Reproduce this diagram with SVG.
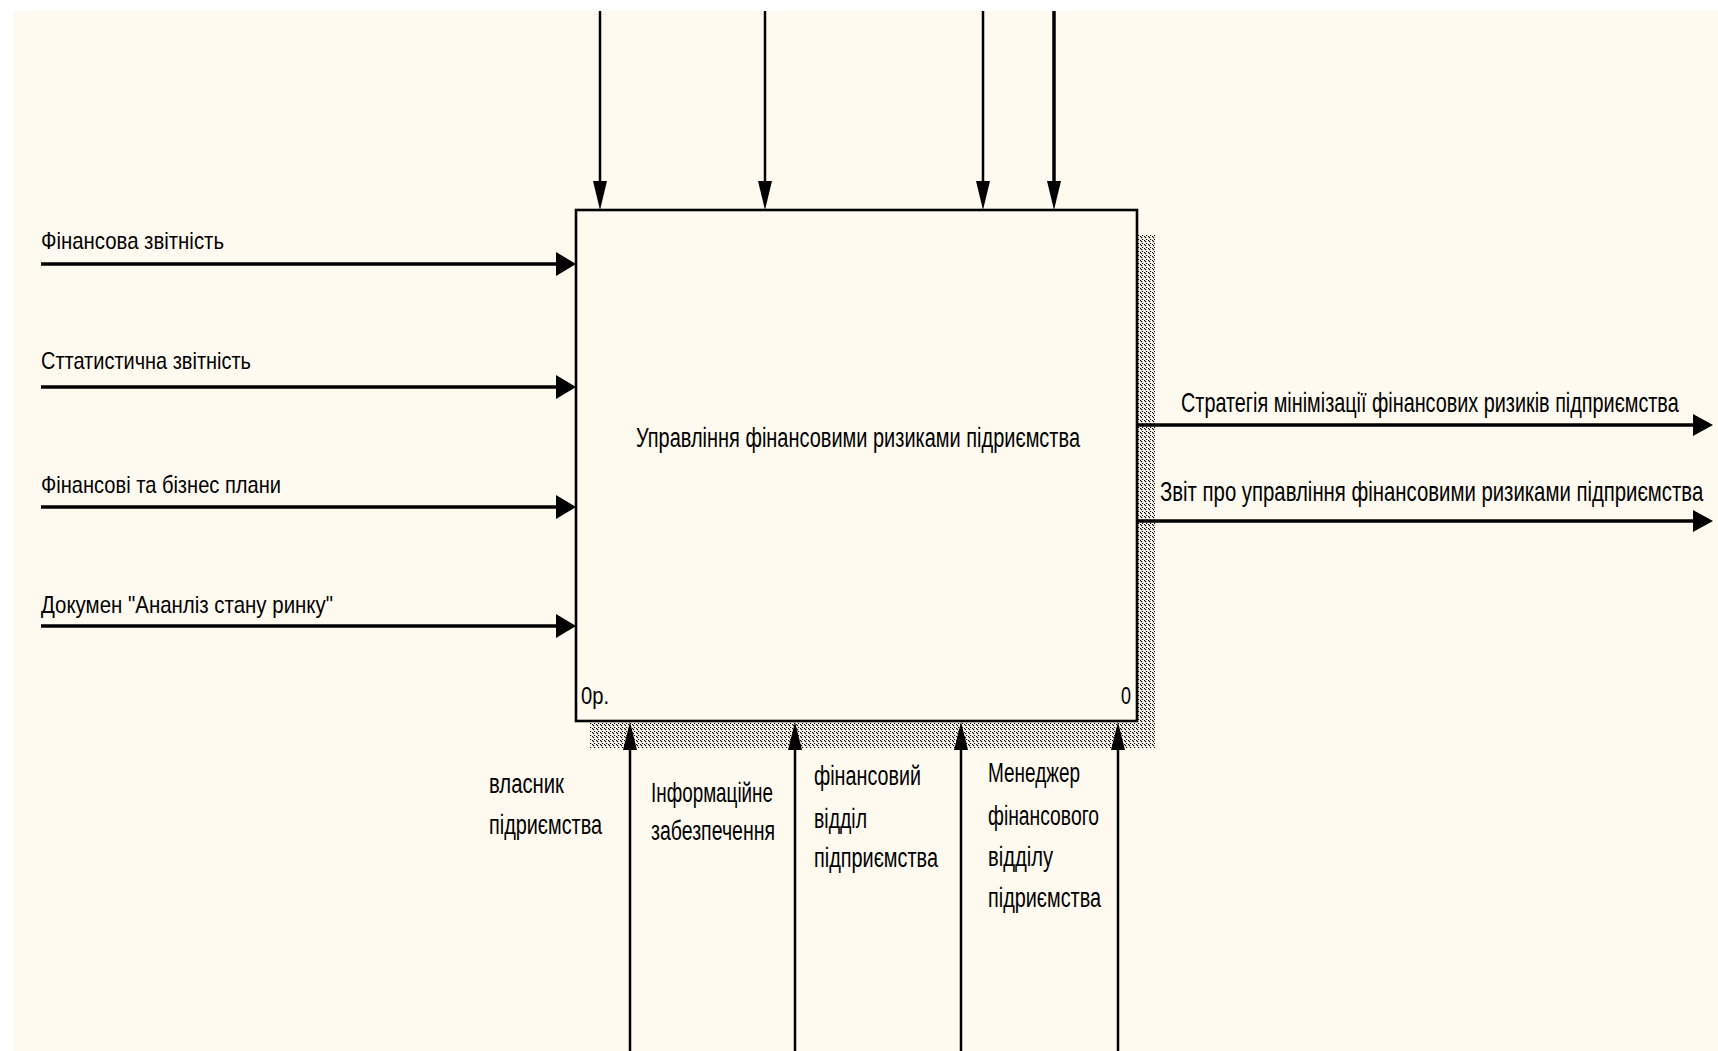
<svg xmlns="http://www.w3.org/2000/svg" width="1718" height="1051" viewBox="0 0 1718 1051">
  <style>
    .lbl { font-family: "Liberation Sans", Arial, sans-serif; fill: #000; }
    .s { font-size: 24px; }
    .m { font-size: 27px; }
    .ln { stroke: #000; fill: none; }
    .thick { stroke-width: 3.5; }
    .thin { stroke-width: 2.5; }
    .ah { fill: #000; }
  </style>
  <defs>
    <pattern id="hatch" width="4" height="4" patternUnits="userSpaceOnUse">
      <rect x="0" y="0" width="4" height="4" fill="#FEFAF0"/>
      <rect x="0" y="0" width="1.2" height="1.2" fill="#000"/>
      <rect x="1" y="1" width="1.2" height="1.2" fill="#000"/>
      <rect x="2" y="3" width="1.2" height="1" fill="#000"/>
    </pattern>
  </defs>
  <rect x="0" y="0" width="1718" height="1051" fill="#FFFFFF"/>
  <rect x="13" y="11" width="1705" height="1040" fill="#FEFAF0"/>

  <g id="node-main">
    <rect x="590" y="235" width="565" height="513" fill="url(#hatch)"/>
    <rect x="576" y="210" width="561" height="511" fill="#FEFAF0" stroke="#000" stroke-width="2.6"/>
    <text class="lbl m" x="636" y="447" textLength="444" lengthAdjust="spacingAndGlyphs">Управління фінансовими ризиками підриємства</text>
    <text class="lbl s" x="581" y="704" textLength="28" lengthAdjust="spacingAndGlyphs">0р.</text>
    <text class="lbl s" x="1121" y="704" textLength="10" lengthAdjust="spacingAndGlyphs">0</text>
  </g>

  <g id="connectors">
    <line class="ln thick" x1="41" y1="264" x2="560" y2="264"/>
    <polygon class="ah" points="556,252 576,264 556,276"/>
    <line class="ln thick" x1="41" y1="387" x2="560" y2="387"/>
    <polygon class="ah" points="556,375 576,387 556,399"/>
    <line class="ln thick" x1="41" y1="507" x2="560" y2="507"/>
    <polygon class="ah" points="556,495 576,507 556,519"/>
    <line class="ln thick" x1="41" y1="626" x2="560" y2="626"/>
    <polygon class="ah" points="556,614 576,626 556,638"/>

    <line class="ln thin" x1="600" y1="11" x2="600" y2="190"/>
    <polygon class="ah" points="593,181 607,181 600,210"/>
    <line class="ln thin" x1="765" y1="11" x2="765" y2="190"/>
    <polygon class="ah" points="758,181 772,181 765,210"/>
    <line class="ln thin" x1="983" y1="11" x2="983" y2="190"/>
    <polygon class="ah" points="976,181 990,181 983,210"/>
    <line class="ln thick" x1="1054" y1="11" x2="1054" y2="190"/>
    <polygon class="ah" points="1047,181 1061,181 1054,210"/>

    <line class="ln thick" x1="1137" y1="425" x2="1696" y2="425"/>
    <polygon class="ah" points="1693,414 1713,425 1693,436"/>
    <line class="ln thick" x1="1137" y1="521" x2="1696" y2="521"/>
    <polygon class="ah" points="1693,510 1713,521 1693,532"/>

    <line class="ln thin" x1="630" y1="1051" x2="630" y2="740"/>
    <polygon class="ah" points="623,750 637,750 630,722"/>
    <line class="ln thin" x1="795" y1="1051" x2="795" y2="740"/>
    <polygon class="ah" points="788,750 802,750 795,722"/>
    <line class="ln thin" x1="961" y1="1051" x2="961" y2="740"/>
    <polygon class="ah" points="954,750 968,750 961,722"/>
    <line class="ln thin" x1="1118" y1="1051" x2="1118" y2="740"/>
    <polygon class="ah" points="1111,750 1125,750 1118,722"/>
  </g>

  <g id="labels-inputs">
    <text class="lbl s" x="41" y="249" textLength="183" lengthAdjust="spacingAndGlyphs">Фінансова звітність</text>
    <text class="lbl s" x="41" y="369" textLength="210" lengthAdjust="spacingAndGlyphs">Сттатистична звітність</text>
    <text class="lbl s" x="41" y="493" textLength="240" lengthAdjust="spacingAndGlyphs">Фінансові та бізнес плани</text>
    <text class="lbl s" x="41" y="613" textLength="292" lengthAdjust="spacingAndGlyphs">Докумен "Ананліз стану ринку"</text>
  </g>

  <g id="labels-outputs">
    <text class="lbl m" transform="translate(1181 412) scale(0.7 1)" x="0" y="0" textLength="711" lengthAdjust="spacingAndGlyphs">Стратегія мінімізації фінансових ризиків підприємства</text>
    <text class="lbl m" transform="translate(1160 501) scale(0.7 1)" x="0" y="0" textLength="776" lengthAdjust="spacingAndGlyphs">Звіт про управління фінансовими ризиками підприємства</text>
  </g>

  <g id="labels-mechanisms">
    <text class="lbl m" x="489" y="793" textLength="75" lengthAdjust="spacingAndGlyphs">власник</text>
    <text class="lbl m" x="489" y="834" textLength="113" lengthAdjust="spacingAndGlyphs">підриємства</text>
    <text class="lbl m" x="651" y="802" textLength="122" lengthAdjust="spacingAndGlyphs">Інформаційне</text>
    <text class="lbl m" x="651" y="840" textLength="124" lengthAdjust="spacingAndGlyphs">забезпечення</text>
    <text class="lbl m" x="814" y="785" textLength="107" lengthAdjust="spacingAndGlyphs">фінансовий</text>
    <text class="lbl m" x="814" y="828" textLength="53" lengthAdjust="spacingAndGlyphs">відділ</text>
    <text class="lbl m" x="814" y="867" textLength="124" lengthAdjust="spacingAndGlyphs">підприємства</text>
    <text class="lbl m" x="988" y="782" textLength="92" lengthAdjust="spacingAndGlyphs">Менеджер</text>
    <text class="lbl m" x="988" y="825" textLength="111" lengthAdjust="spacingAndGlyphs">фінансового</text>
    <text class="lbl m" x="988" y="866" textLength="65" lengthAdjust="spacingAndGlyphs">відділу</text>
    <text class="lbl m" x="988" y="907" textLength="113" lengthAdjust="spacingAndGlyphs">підриємства</text>
  </g>
</svg>
